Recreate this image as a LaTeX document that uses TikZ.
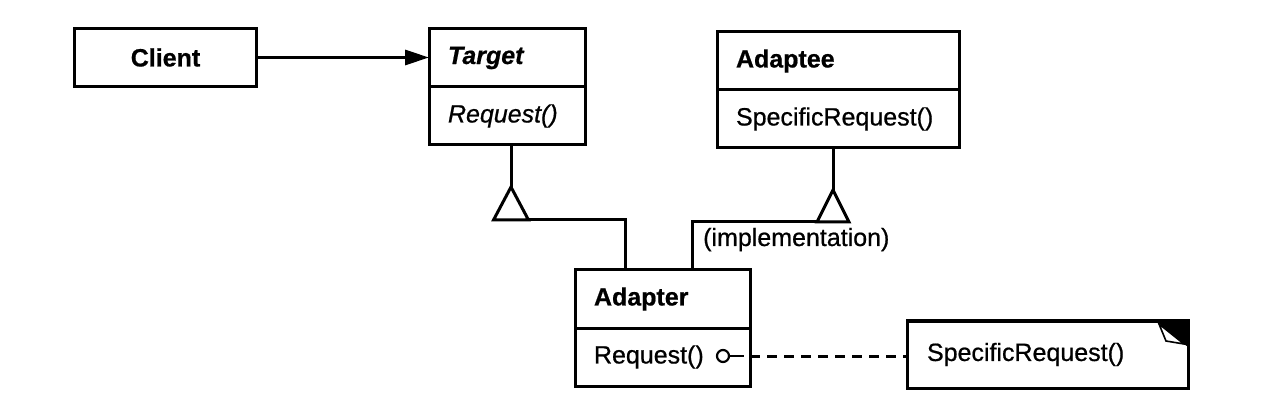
\documentclass[tikz,border=0pt]{standalone}
\usepackage{fontspec}
\setmainfont{Liberation Sans}[FakeBold=0.7]
\usetikzlibrary{arrows.meta,calc}
\begin{document}
\begin{tikzpicture}[x=1pt,y=-1pt,
  ln/.style={line width=3pt},
  cls/.style={draw, ln, outer sep=0pt, inner xsep=19pt, inner ysep=0pt, align=left,
    minimum height=58pt, anchor=north west,
    font=\fontsize{25}{30}\selectfont},
  clsname/.style={cls, font=\fontsize{25}{30}\selectfont\bfseries},
  plain/.style={font=\fontsize{25}{30}\selectfont, inner sep=0pt}
]
\useasboundingbox (0,0) rectangle (1286,414);

% Client
\node[draw, ln, minimum width=182pt, minimum height=58pt, anchor=north west,
  inner sep=0pt, font=\fontsize{25}{30}\selectfont\bfseries] (client) at (73,27) {Client};

% Target
\node[clsname, text width=118pt, font=\fontsize{25}{30}\selectfont\bfseries\itshape] (targetN) at (429,29) {Target};
\node[cls, text width=118pt, anchor=north, font=\fontsize{25}{30}\selectfont\itshape] (targetM) at (targetN.south) {Request()};

% Adaptee
\node[clsname, text width=204pt] (adapteeN) at (717,32) {Adaptee};
\node[cls, text width=204pt, anchor=north] (adapteeM) at (adapteeN.south) {SpecificRequest()};

% Adapter
\node[clsname, text width=137pt] (adapterN) at (575,270) {Adapter};
\node[cls, text width=137pt, anchor=north] (adapterM) at (adapterN.south) {Request()};

% Note
\node[draw, ln, outer sep=0pt, minimum width=281pt, minimum height=67pt, anchor=north west,
  inner xsep=20pt, inner ysep=0pt, text width=241pt, align=left,
  font=\fontsize{25}{30}\selectfont] (note) at (907,321) {SpecificRequest()};
\fill ($(note.north east)+(-32,0)$) -- (note.north east) -- ($(note.north east)+(0,26)$) -- cycle;
\draw[line width=1.6pt, fill=white] ($(note.north east)+(-29,3)$) -- ($(note.north east)+(-22,20)$) -- ($(note.north east)+(-4,23)$) -- cycle;

% Client -> Target
\draw[ln, -{Triangle[length=24pt,width=15pt]}] (client.east) -- (client.east -| targetN.west);

% Generalization Target <- Adapter
\coordinate (tA) at (511,187);
\coordinate (tL) at (493.5,220);
\coordinate (tR) at (528.5,220);
\draw[ln] (targetM.south -| tA) -- (tA);
\draw[ln, line join=miter] (tA) -- (tL) -- (tR) -- cycle;
\coordinate (in1) at ($(adapterN.north west)+(50,0)$);
\draw[ln] (tR) -| (in1);

% Generalization Adaptee <- Adapter
\coordinate (aA) at (833,190);
\coordinate (aL) at (817,222);
\coordinate (aR) at (849,222);
\draw[ln] (adapteeM.south -| aA) -- (aA);
\draw[ln, line join=miter] (aA) -- (aL) -- (aR) -- cycle;
\coordinate (in2) at ($(adapterN.north west)+(117,0)$);
\draw[ln] (aL) -| (in2);
\node[plain, anchor=base west] (impl) at (703,246) {(implementation)};

% Request() -> note
\node[draw, circle, line width=2.2pt, minimum size=12pt, inner sep=0pt] (circ) at (723,356) {};
\coordinate (adR) at (adapterM.east |- circ);
\draw[line width=2.4pt] (circ.east) -- ([xshift=-6pt]adR);
\draw[ln, dash pattern=on 10pt off 7pt] (adR) -- (note.west |- circ);
\end{tikzpicture}
\end{document}
